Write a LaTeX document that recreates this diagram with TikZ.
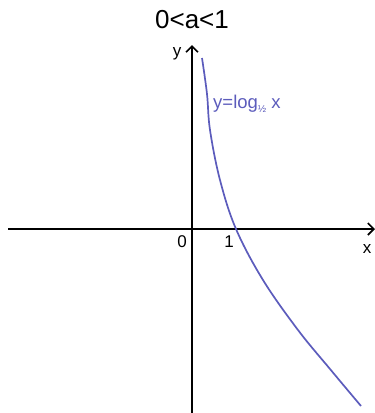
\documentclass[tikz,border=0pt]{standalone}
\usepackage{fontspec}
\setmainfont{Liberation Sans}
\usetikzlibrary{arrows.meta}
\definecolor{curveblue}{RGB}{92,92,188}
\begin{document}
\begin{tikzpicture}[x=1pt,y=-1pt,
  axis/.style={line width=1.8pt,-{Straight Barb[length=6pt,width=12pt,line width=1.6pt]}},
  lbl/.style={inner sep=0pt,font=\fontsize{17}{17}\selectfont},
  curve/.style={curveblue,line width=1.7pt}]
\useasboundingbox (0,0) rectangle (375,413);
\coordinate (xs) at (8,229);
\coordinate (xe) at (375,229);
\coordinate (ys) at (192,413);
\coordinate (ye) at (192,45);
\draw[axis] (xs) -- (xe);
\draw[axis] (ys) -- (ye);
\draw[curve] plot[smooth,tension=0.6] coordinates {(202,58) (207,94) (210,130) (220,180) (236,229) (263,280) (298,330) (330,369) (361,406)};
\node[lbl,font=\fontsize{26}{26}\selectfont] (title) at (192,20) {0<a<1};
\node[lbl] (ylab) at (177,54) {y};
\node[lbl] (xlab) at (367,249) {x};
\node[lbl] (zero) at (182,242) {0};
\node[lbl] (one) at (229,242) {1};
\node[lbl,anchor=west,text=curveblue,font=\fontsize{18.5}{18.5}\selectfont] (fn) at (213,104) {y=log\raisebox{-0.35ex}{\fontsize{10}{10}\selectfont ½} x};
\end{tikzpicture}
\end{document}
